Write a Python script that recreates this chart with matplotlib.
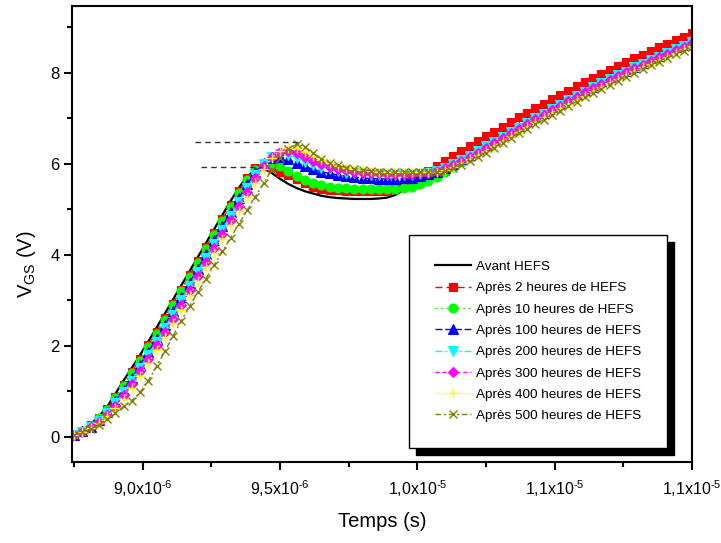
import matplotlib
matplotlib.use("Agg")
import matplotlib.pyplot as plt
from matplotlib.patches import Rectangle
from matplotlib.ticker import FixedLocator, MultipleLocator

plt.rcParams['font.family'] = ['Liberation Sans', 'DejaVu Sans']
plt.rcParams['mathtext.fontset'] = 'custom'
plt.rcParams['mathtext.rm'] = 'Liberation Sans'
plt.rcParams['mathtext.it'] = 'Liberation Sans:italic'

# time grid in microseconds
t_us = [8.75, 8.78, 8.81, 8.84, 8.87, 8.90, 8.93, 8.96, 8.99, 9.02,
        9.05, 9.08, 9.11, 9.14, 9.17, 9.20, 9.23, 9.26, 9.29, 9.32,
        9.35, 9.38, 9.41, 9.44, 9.47, 9.50, 9.53, 9.56, 9.59, 9.62,
        9.65, 9.68, 9.71, 9.74, 9.77, 9.80, 9.83, 9.86, 9.89, 9.92,
        9.95, 9.98, 10.01, 10.04, 10.07, 10.10, 10.13, 10.16, 10.19, 10.22,
        10.25, 10.28, 10.31, 10.34, 10.37, 10.40, 10.43, 10.46, 10.49, 10.52,
        10.55, 10.58, 10.61, 10.64, 10.67, 10.70, 10.73, 10.76, 10.79, 10.82,
        10.85, 10.88, 10.91, 10.94, 10.97, 11.00]

v_avant = [0.05, 0.15, 0.28, 0.45, 0.66, 0.95, 1.24, 1.52, 1.80, 2.10,
           2.40, 2.71, 3.02, 3.33, 3.64, 3.95, 4.26, 4.57, 4.88, 5.19,
           5.48, 5.72, 5.87, 5.90, 5.80, 5.67, 5.56, 5.47, 5.40, 5.35,
           5.30, 5.27, 5.25, 5.24, 5.23, 5.23, 5.23, 5.24, 5.26, 5.32,
           5.44, 5.58, 5.70, 5.80, 5.90, 6.01, 6.12, 6.23, 6.34, 6.45,
           6.56, 6.66, 6.77, 6.87, 6.97, 7.07, 7.17, 7.27, 7.37, 7.47,
           7.56, 7.66, 7.75, 7.84, 7.93, 8.02, 8.10, 8.19, 8.27, 8.35,
           8.43, 8.51, 8.59, 8.67, 8.74, 8.82]

v_2h = [0.05, 0.14, 0.26, 0.42, 0.62, 0.88, 1.15, 1.43, 1.72, 2.01,
        2.31, 2.62, 2.93, 3.24, 3.55, 3.86, 4.17, 4.48, 4.79, 5.10,
        5.40, 5.68, 5.90, 5.98, 5.93, 5.82, 5.76, 5.66, 5.57, 5.50,
        5.45, 5.43, 5.42, 5.41, 5.41, 5.40, 5.40, 5.40, 5.41, 5.44,
        5.52, 5.64, 5.75, 5.85, 5.95, 6.06, 6.17, 6.28, 6.39, 6.50,
        6.61, 6.71, 6.82, 6.92, 7.02, 7.12, 7.22, 7.32, 7.42, 7.52,
        7.61, 7.71, 7.80, 7.89, 7.98, 8.07, 8.15, 8.24, 8.32, 8.40,
        8.48, 8.56, 8.64, 8.72, 8.79, 8.87]

v_10h = [0.05, 0.14, 0.25, 0.41, 0.60, 0.85, 1.12, 1.40, 1.68, 1.97,
         2.27, 2.58, 2.89, 3.20, 3.51, 3.82, 4.13, 4.44, 4.75, 5.06,
         5.36, 5.64, 5.86, 5.97, 5.99, 5.95, 5.84, 5.74, 5.65, 5.58,
         5.53, 5.50, 5.48, 5.46, 5.45, 5.45, 5.44, 5.44, 5.44, 5.44,
         5.46, 5.50, 5.55, 5.62, 5.72, 5.83, 5.94, 6.05, 6.16, 6.27,
         6.38, 6.48, 6.59, 6.69, 6.80, 6.90, 7.00, 7.10, 7.20, 7.30,
         7.40, 7.49, 7.59, 7.68, 7.77, 7.86, 7.95, 8.03, 8.12, 8.20,
         8.28, 8.36, 8.44, 8.52, 8.60, 8.68]

v_100h = [0.05, 0.13, 0.23, 0.37, 0.55, 0.78, 1.03, 1.30, 1.58, 1.87,
          2.16, 2.46, 2.77, 3.08, 3.39, 3.70, 4.01, 4.32, 4.63, 4.94,
          5.25, 5.55, 5.82, 6.02, 6.13, 6.15, 6.10, 6.02, 5.95, 5.88,
          5.83, 5.79, 5.76, 5.73, 5.71, 5.69, 5.68, 5.67, 5.67, 5.67,
          5.68, 5.70, 5.73, 5.77, 5.83, 5.91, 6.00, 6.10, 6.20, 6.30,
          6.41, 6.51, 6.61, 6.72, 6.82, 6.92, 7.02, 7.12, 7.22, 7.32,
          7.42, 7.51, 7.61, 7.70, 7.79, 7.88, 7.97, 8.05, 8.14, 8.22,
          8.30, 8.38, 8.46, 8.54, 8.62, 8.70]

v_200h = [0.05, 0.12, 0.22, 0.35, 0.52, 0.74, 0.98, 1.24, 1.52, 1.80,
          2.09, 2.39, 2.69, 3.00, 3.31, 3.62, 3.93, 4.24, 4.55, 4.86,
          5.17, 5.47, 5.76, 6.00, 6.16, 6.22, 6.20, 6.13, 6.05, 5.98,
          5.92, 5.88, 5.84, 5.81, 5.79, 5.77, 5.76, 5.75, 5.75, 5.75,
          5.75, 5.76, 5.77, 5.80, 5.84, 5.91, 5.99, 6.08, 6.18, 6.28,
          6.39, 6.49, 6.59, 6.70, 6.80, 6.90, 7.00, 7.10, 7.20, 7.30,
          7.40, 7.49, 7.59, 7.68, 7.77, 7.86, 7.95, 8.03, 8.12, 8.20,
          8.28, 8.36, 8.44, 8.52, 8.60, 8.68]

v_300h = [0.05, 0.12, 0.21, 0.33, 0.49, 0.69, 0.92, 1.17, 1.44, 1.72,
          2.01, 2.30, 2.60, 2.91, 3.22, 3.53, 3.84, 4.15, 4.46, 4.77,
          5.08, 5.39, 5.69, 5.96, 6.16, 6.27, 6.29, 6.24, 6.16, 6.07,
          6.00, 5.94, 5.89, 5.86, 5.83, 5.81, 5.80, 5.79, 5.78, 5.78,
          5.78, 5.78, 5.79, 5.81, 5.84, 5.90, 5.97, 6.06, 6.15, 6.25,
          6.36, 6.46, 6.57, 6.67, 6.77, 6.88, 6.98, 7.08, 7.18, 7.28,
          7.38, 7.47, 7.57, 7.66, 7.75, 7.84, 7.93, 8.01, 8.10, 8.18,
          8.26, 8.34, 8.42, 8.50, 8.58, 8.66]

v_400h = [0.05, 0.11, 0.19, 0.30, 0.45, 0.63, 0.84, 1.08, 1.34, 1.62,
          1.91, 2.20, 2.50, 2.80, 3.11, 3.42, 3.73, 4.04, 4.35, 4.66,
          4.97, 5.28, 5.59, 5.88, 6.12, 6.29, 6.36, 6.34, 6.27, 6.17,
          6.08, 6.01, 5.95, 5.91, 5.88, 5.86, 5.84, 5.83, 5.83, 5.82,
          5.82, 5.82, 5.82, 5.82, 5.83, 5.87, 5.93, 6.01, 6.10, 6.19,
          6.29, 6.40, 6.50, 6.61, 6.71, 6.81, 6.92, 7.02, 7.12, 7.22,
          7.31, 7.41, 7.50, 7.60, 7.69, 7.78, 7.87, 7.95, 8.04, 8.12,
          8.20, 8.28, 8.36, 8.44, 8.52, 8.59]

v_500h = [0.05, 0.10, 0.17, 0.27, 0.39, 0.53, 0.67, 0.80, 0.98, 1.24,
          1.55, 1.88, 2.22, 2.55, 2.87, 3.18, 3.48, 3.78, 4.08, 4.38,
          4.68, 4.98, 5.28, 5.58, 5.87, 6.12, 6.33, 6.43, 6.38, 6.24,
          6.11, 6.03, 5.97, 5.92, 5.89, 5.87, 5.85, 5.83, 5.82, 5.82,
          5.82, 5.82, 5.82, 5.82, 5.82, 5.85, 5.91, 5.98, 6.06, 6.15,
          6.25, 6.35, 6.46, 6.56, 6.67, 6.77, 6.87, 6.97, 7.07, 7.17,
          7.27, 7.37, 7.46, 7.56, 7.65, 7.74, 7.83, 7.92, 8.00, 8.09,
          8.17, 8.25, 8.33, 8.41, 8.49, 8.57]

labels = ["Avant HEFS", "Après 2 heures de HEFS", "Après 10 heures de HEFS",
          "Après 100 heures de HEFS", "Après 200 heures de HEFS",
          "Après 300 heures de HEFS", "Après 400 heures de HEFS",
          "Après 500 heures de HEFS"]

# dashed reference levels (V) and their time extents (us)
ref_upper_v, ref_upper_t = 6.48, (9.19, 9.57)
ref_lower_v, ref_lower_t = 5.94, (9.21, 9.43)

xtick_vals = [9.0e-6, 9.5e-6, 1.0e-5, 1.05e-5, 1.1e-5]
xtick_labels = [r"9,0x10$^{\text{-}6}$", r"9,5x10$^{\text{-}6}$", r"1,0x10$^{\text{-}5}$",
                r"1,1x10$^{\text{-}5}$", r"1,1x10$^{\text{-}5}$"]

series = [v_avant, v_2h, v_10h, v_100h, v_200h, v_300h, v_400h, v_500h]
styles = [
    dict(color="black", ls="-", lw=1.6, marker=None),
    dict(color="#ff0000", ls=(0, (5, 3)), lw=1.0, marker="s", ms=5.5),
    dict(color="#00ff00", ls=(0, (1.5, 2.5)), lw=1.0, marker="o", ms=6.5),
    dict(color="#0000ff", ls=(0, (5, 2)), lw=1.0, marker="^", ms=6.5),
    dict(color="#00ffff", ls=(0, (5, 2, 1.5, 2)), lw=1.0, marker="v", ms=6.5),
    dict(color="#ff00ff", ls=(0, (3, 2)), lw=1.0, marker="D", ms=5),
    dict(color="#ffff00", ls=(0, (1, 1.5)), lw=1.0, marker="+", ms=6.5, mew=1.0),
    dict(color="#808000", ls=(0, (4, 2, 1.5, 2)), lw=1.0, marker="x", ms=6, mew=1.0),
]

fig = plt.figure(figsize=(7.21, 5.43), dpi=100)
ax = fig.add_axes([72/721, (543-462)/543, (692-72)/721, (462-6)/543])

t_s = [v * 1e-6 for v in t_us]
for vals, st, lab in zip(series, styles, labels):
    kw = dict(color=st["color"], linestyle=st["ls"], linewidth=st["lw"], label=lab)
    if st["marker"]:
        kw.update(marker=st["marker"], markersize=st["ms"],
                  markerfacecolor=st["color"], markeredgecolor=st["color"],
                  markeredgewidth=st.get("mew", 0.8))
    ax.plot(t_s, vals, **kw)

ax.plot([ref_upper_t[0]*1e-6, ref_upper_t[1]*1e-6], [ref_upper_v]*2,
        color="#333333", ls=(0, (4, 3)), lw=1.0)
ax.plot([ref_lower_t[0]*1e-6, ref_lower_t[1]*1e-6], [ref_lower_v]*2,
        color="#333333", ls=(0, (4, 3)), lw=1.0)

ax.set_xlim(8.742e-6, 11.0e-6)
ax.set_ylim(-0.55, 9.47)

ax.xaxis.set_major_locator(FixedLocator(xtick_vals))
ax.set_xticklabels(xtick_labels)
ax.xaxis.set_minor_locator(MultipleLocator(0.25e-6))
ax.yaxis.set_major_locator(MultipleLocator(2))
ax.yaxis.set_minor_locator(MultipleLocator(1))

ax.tick_params(which="major", direction="out", length=6, width=1.5, labelsize=12,
               top=False, right=False)
ax.tick_params(axis="x", which="major", pad=6, labelsize=11.5)
ax.tick_params(axis="y", which="major", pad=3)
ax.tick_params(which="minor", direction="out", length=3.8, width=1.5,
               top=False, right=False)
for sp in ax.spines.values():
    sp.set_linewidth(1.5)

ax.set_xlabel("Temps (s)", fontsize=14.5, labelpad=9)
ax.set_ylabel(r"V$_{\rm GS}$ (V)", fontsize=14.5, labelpad=4)
ax.yaxis.set_label_coords(-0.055, 0.434)

leg = ax.legend(loc="upper left", bbox_to_anchor=(0.544, 0.498), fontsize=9.7,
                frameon=True, fancybox=False, edgecolor="black", framealpha=1,
                borderpad=1.9, labelspacing=0.66, handlelength=2.7,
                handletextpad=0.35, numpoints=1, borderaxespad=0)
leg.get_frame().set_linewidth(1.0)
leg.set_zorder(10)

fig.canvas.draw()
bb = leg.get_window_extent()
inv = ax.transAxes.inverted()
(x0, y0) = inv.transform((bb.x0 + 7, bb.y0 - 7))
(x1, y1) = inv.transform((bb.x1 + 7, bb.y1 - 7))
ax.add_patch(Rectangle((x0, y0), x1 - x0, y1 - y0, transform=ax.transAxes,
                       facecolor="black", edgecolor="black", zorder=9, clip_on=False))

fig.savefig("out.png", dpi=100)
